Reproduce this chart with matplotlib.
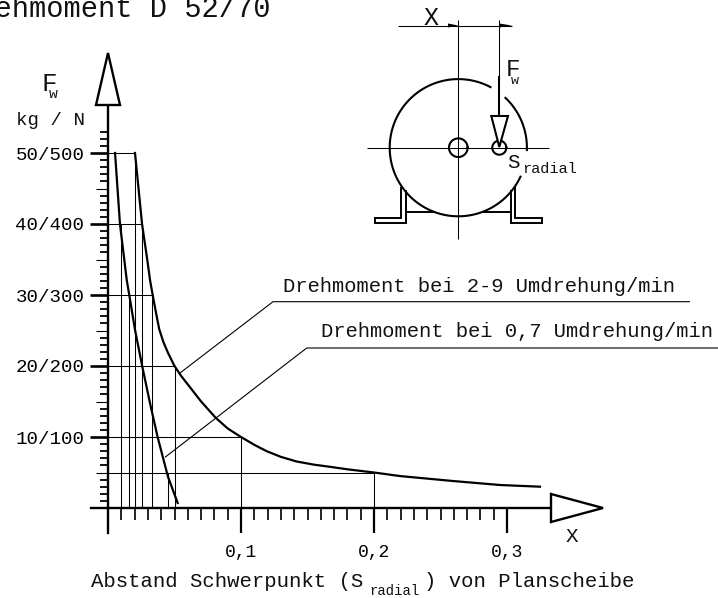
import numpy as np
import matplotlib
matplotlib.use('Agg')
import matplotlib.pyplot as plt

plt.rcParams['font.family'] = ['Liberation Mono', 'DejaVu Sans Mono']

# curve readings, x = Abstand, y = kg
curve_fast_x = [0.0203, 0.0256, 0.0295, 0.0316, 0.0336, 0.0366, 0.0385, 0.0416, 0.045, 0.05, 0.055, 0.0617, 0.07, 0.081,
                0.09, 0.10, 0.11, 0.1193, 0.13, 0.1418, 0.155, 0.167, 0.18, 0.20, 0.2195, 0.2594, 0.2947, 0.3248]
curve_fast_y = [50.0, 40.0, 35.0, 32.1, 30.0, 27.0, 25.2, 23.4, 21.9, 20.0, 18.6, 17.0, 15.0, 12.7,
                11.2, 10.0, 8.9, 8.0, 7.2, 6.55, 6.1, 5.8, 5.45, 5.0, 4.5, 3.8, 3.24, 3.0]
curve_slow_x = [0.0053, 0.009, 0.0141, 0.016, 0.0203, 0.0257, 0.0316, 0.0373, 0.0451, 0.0524]
curve_slow_y = [50.0, 40.0, 32.1, 30.0, 25.1, 20.0, 14.75, 10.0, 4.4, 0.7]

# thin helper lines: horizontal ones run from the axis, vertical ones drop to the axis
hline_y = [50, 40, 30, 20, 10, 5]
hline_end = [0.0203, 0.0256, 0.0336, 0.05, 0.1, 0.2]
vline_x = [0.0095, 0.0158, 0.0203, 0.0256, 0.0333, 0.045, 0.05, 0.1, 0.2]
vline_top = [40, 30, 50, 40, 30, 5, 20, 10, 5]

y_major = [10, 20, 30, 40, 50]
y_labels = ['10/100', '20/200', '30/300', '40/400', '50/500']
y_mid = [5, 15, 25, 35, 45]
y_minor = [v for v in range(1, 54) if v % 5 != 0]
x_major = [0.1, 0.2, 0.3]
x_labels = ['0,1', '0,2', '0,3']
x_minor = [v / 100 for v in range(1, 30) if v % 10 != 0]

# pixel scale of the chart in the 718x598 image
X0, Y0 = 108.0, 508.0
PX_X, PX_Y = 1330.0, 7.1
W, H = 718, 598

fig = plt.figure(figsize=(W / 100, H / 100), dpi=100)

ax = fig.add_axes([0, 0, 1, 1])
ax.set_xlim(-X0 / PX_X, (W - X0) / PX_X)
ax.set_ylim((Y0 - H) / PX_Y, Y0 / PX_Y)
ax.patch.set_visible(False)
for s in ['top', 'right']:
    ax.spines[s].set_visible(False)
ax.spines['left'].set_position(('data', 0))
ax.spines['bottom'].set_position(('data', 0))
ax.spines['left'].set_bounds(-25 / PX_Y, (Y0 - 105) / PX_Y)
ax.spines['bottom'].set_bounds(-17 / PX_X, (551 - X0) / PX_X)
ax.spines['left'].set_linewidth(1.7)
ax.spines['bottom'].set_linewidth(1.7)

ax.set_yticks(y_major, labels=y_labels)
ax.set_yticks(y_minor, minor=True)
ax.set_xticks(x_major, labels=x_labels)
ax.set_xticks(x_minor, minor=True)
ax.tick_params(axis='y', which='major', length=13, width=1.9, pad=4, labelsize=13.8)
ax.tick_params(axis='y', which='minor', length=5.8, width=1.3)
ax.tick_params(axis='x', which='major', length=18, width=1.6, pad=8, labelsize=13)
ax.tick_params(axis='x', which='minor', length=8.6, width=1.2)

ax.hlines(y_mid, -12 / PX_X, 0, color='black', lw=0.8)
ax.hlines(hline_y, 0, hline_end, color='black', lw=0.75)
ax.vlines(vline_x, 0, vline_top, color='black', lw=0.75)

ax.plot(curve_fast_x, curve_fast_y, color='black', lw=1.6, solid_joinstyle='round')
ax.plot(curve_slow_x, curve_slow_y, color='black', lw=1.6, solid_joinstyle='round')

# everything else is placed in image pixels on an overlay
ov = fig.add_axes([0, 0, 1, 1])
ov.set_xlim(0, W)
ov.set_ylim(H, 0)
ov.axis('off')


def line(xs, ys, lw=0.75):
    ov.plot(xs, ys, color='black', lw=lw, solid_capstyle='butt', solid_joinstyle='miter')


def arc(cx, cy, r, a1, a2, lw=1.5):
    t = np.radians(np.linspace(a1, a2, 120))
    ov.plot(cx + r * np.cos(t), cy - r * np.sin(t), color='black', lw=lw)


def label(x, y, s, size, ha='left', va='baseline'):
    ov.text(x, y, s, fontsize=size, ha=ha, va=va, color='#111111')


# axis arrows
ov.fill([108, 96, 120], [53, 105, 105], facecolor='white', edgecolor='black', lw=1.7, joinstyle='miter')
ov.fill([551, 603, 551], [494, 508, 522], facecolor='white', edgecolor='black', lw=1.7, joinstyle='miter')

# leader lines to the curves
line([180, 273, 690], [373, 301.7, 301.7], lw=0.8)
line([165, 306.7, 718], [457.3, 348, 348], lw=0.8)
label(282.7, 292, 'Drehmoment bei 2-9 Umdrehung/min', 14.8)
label(320.7, 337, 'Drehmoment bei 0,7 Umdrehung/min', 14.8)

label(270, 16.7, 'Drehmoment D 52/70', 20.7, ha='right')
label(85, 125, 'kg / N', 13.8, ha='right')
label(41, 91, 'F', 18.5)
label(49, 98, 'w', 10.5)
label(572, 536.7, 'X', 15, ha='center', va='center')

label(91, 586.7, 'Abstand Schwerpunkt (S', 14.9)
label(369, 595, 'radial', 10)
label(423.5, 586.7, ') von Planscheibe', 14.9)

# small schematic of the faceplate
cx, cy = 458.3, 147.7
sx = 499.3
arc(cx, cy, 68.6, -25, -298)
arc(cx, cy, 68.6, 46.6, -2)
arc(cx, cy, 9.3, 0, 360)
arc(sx, cy, 7, 0, 360)
line([367, 549], [cy, cy])
line([cx, cx], [20, 238.7])
line([sx, sx], [20, 76])
line([398, 511.7], [25.5, 25.5])
ov.fill([448, cx, 448], [23.5, 25.5, 27.5], color='black', lw=0)
ov.fill([sx, 512, sx], [23.5, 25.5, 27.5], color='black', lw=0)
line([sx, sx], [76, 116], lw=1.5)
ov.fill([491.3, 508, sx], [116, 116, 147], facecolor='white', edgecolor='black', lw=1.5, joinstyle='miter', zorder=3)

# feet
line([401, 401, 375, 375, 405.7, 405.7], [186.7, 218.3, 218.3, 222.7, 222.7, 190], lw=1.4)
line([515, 515, 541.7, 541.7, 511, 511], [186.7, 218.3, 218.3, 222.7, 222.7, 190], lw=1.4)
line([405.7, 434], [211.7, 211.7], lw=1.4)
line([483, 511], [211.7, 211.7], lw=1.4)

label(431, 25, 'X', 18, ha='center')
label(505.5, 76, 'F', 17.5)
label(511, 84, 'w', 9.5)
label(507.5, 168, 'S', 15)
label(521.7, 172.7, 'radial', 11)

fig.savefig('out.png', dpi=100)
plt.close(fig)
